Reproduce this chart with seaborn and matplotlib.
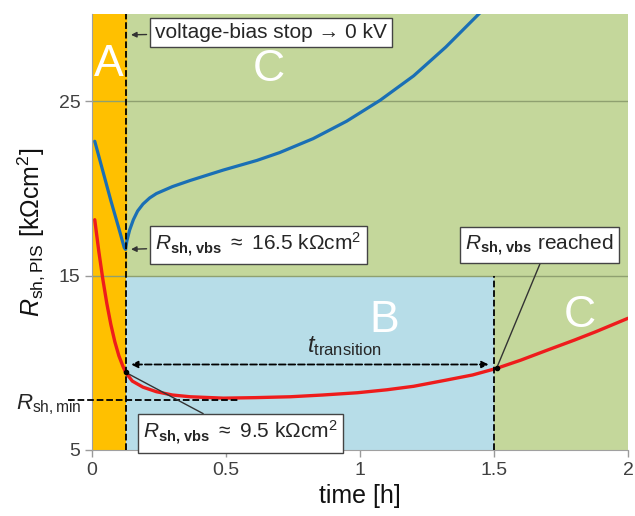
import numpy as np
import pandas as pd
import matplotlib
matplotlib.use("Agg")
import matplotlib.pyplot as plt
import seaborn as sns

# Curves
t_blue = [0.01, 0.04, 0.07, 0.1, 0.12, 0.125, 0.13, 0.14, 0.154, 0.17, 0.19, 0.215, 0.24,
          0.3, 0.366, 0.49, 0.615, 0.7, 0.825, 0.95, 1.075, 1.2, 1.32, 1.45, 1.47]
r_blue = [22.7, 21.0, 19.3, 17.7, 16.6, 16.5, 17.0, 17.6, 18.2, 18.7, 19.1, 19.45, 19.7,
          20.1, 20.45, 21.05, 21.6, 22.05, 22.85, 23.85, 25.05, 26.45, 28.1, 30.1, 30.4]

t_red = [0.01, 0.025, 0.04, 0.055, 0.07, 0.085, 0.1, 0.115, 0.125, 0.15, 0.19, 0.24, 0.3,
         0.366, 0.49, 0.61, 0.74, 0.86, 0.99, 1.1, 1.2, 1.32, 1.42, 1.51, 1.6, 1.7, 1.8,
         1.88, 2.0]
r_red = [18.2, 16.4, 14.8, 13.4, 12.2, 11.2, 10.4, 9.8, 9.45, 8.95, 8.6, 8.34, 8.15,
         8.05, 7.97, 8.0, 8.05, 8.15, 8.28, 8.45, 8.65, 9.0, 9.3, 9.68, 10.15, 10.73, 11.3,
         11.78, 12.55]

t_stop = 0.125       # voltage-bias stop
t_reached = 1.51     # R_sh,vbs reached again
r_vbs_blue = 16.5
r_vbs_red = 9.45
r_min = 7.87
r_transition = 9.9
x_ticks = [0, 0.5, 1, 1.5, 2]
y_ticks = [5, 15, 25]

blue_df = pd.DataFrame({"time": t_blue, "R": r_blue})
red_df = pd.DataFrame({"time": t_red, "R": r_red})

sns.set_style("white")
plt.rcParams["font.family"] = ["Liberation Sans", "DejaVu Sans"]
plt.rcParams["mathtext.fontset"] = "custom"
plt.rcParams["mathtext.rm"] = "Liberation Sans"
plt.rcParams["mathtext.it"] = "Liberation Sans:italic"
plt.rcParams["mathtext.bf"] = "Liberation Sans:bold"

fig = plt.figure(figsize=(6.35, 5.16), dpi=100)
ax = fig.add_axes([0.145, 0.128, 0.844, 0.845])

green = "#C4D79B"
orange = "#FFC000"
lightblue = "#B7DDE8"
ax.set_facecolor(green)
ax.axvspan(0, t_stop, color=orange, zorder=0)
ax.fill_between([t_stop, 1.5], 5, 15, color=lightblue, zorder=0, linewidth=0)
ax.axhline(25, color="#8FA070", lw=1, zorder=1)
ax.axhline(15, color="#8FA070", lw=1, zorder=1)

sns.lineplot(data=blue_df, x="time", y="R", ax=ax, color="#1A6FB5", lw=2.3, zorder=3)
sns.lineplot(data=red_df, x="time", y="R", ax=ax, color="#EE1C1C", lw=2.4, zorder=3)

ax.set_xlim(0, 2)
ax.set_ylim(5, 30)
ax.set_xticks(x_ticks)
ax.set_xticklabels(["0", "0.5", "1", "1.5", "2"])
ax.set_yticks(y_ticks)
ax.tick_params(axis="both", colors="#9A9A9A", labelsize=14, length=5, width=1,
               bottom=True, left=True, labelcolor="#404040")
for s in ["top", "right"]:
    ax.spines[s].set_visible(False)
for s in ["left", "bottom"]:
    ax.spines[s].set_color("#A0A0A0")

ax.set_xlabel("time [h]", fontsize=18, color="#111111", labelpad=4)
ax.set_ylabel(r"$\mathit{R}_{\mathrm{sh,PIS}}$ [k$\Omega$cm$^2$]", fontsize=18,
              color="#111111", labelpad=8)

# dashed guide lines
ax.plot([t_stop, t_stop], [5, 30], ls="--", color="black", lw=1.3, zorder=4)
ax.plot([1.5, 1.5], [5, 15], ls="--", color="black", lw=1.3, zorder=4)
ax.plot([-0.09, 0.55], [r_min, r_min], ls="--", color="black", lw=1.3, zorder=4, clip_on=False)
ax.annotate("", xy=(t_stop + 0.01, r_transition), xytext=(1.5 - 0.01, r_transition),
            arrowprops=dict(arrowstyle="<|-|>", ls="--", color="black", lw=1.3,
                            mutation_scale=10), zorder=4)
ax.text(0.94, 10.25, r"$\mathit{t}_{\mathrm{transition}}$", fontsize=17, ha="center", va="bottom")
ax.text(-0.16, r_min - 0.3, r"$\mathit{R}_{\mathrm{sh,min}}$", fontsize=16, ha="center",
        va="center", clip_on=False)

# region letters
for lbl, x, y in [("A", 0.062, 27.1), ("C", 0.66, 26.8), ("B", 1.09, 12.4), ("C", 1.82, 12.7)]:
    ax.text(x, y, lbl, color="white", fontsize=32, ha="center", va="center", zorder=5)

box = dict(boxstyle="square,pad=0.25", fc="white", ec="#444444", lw=1)
ax.annotate("voltage-bias stop \u2192 0 kV", xy=(t_stop + 0.01, 28.8),
            xytext=(0.235, 28.95), fontsize=15, va="center", ha="left", bbox=box,
            arrowprops=dict(arrowstyle="-|>", color="#333333", lw=1, mutation_scale=8), zorder=6)
ax.annotate(r"$\mathit{R}_{\mathbf{sh,\,vbs}}$ $\approx$ 16.5 k$\Omega$cm$^2$",
            xy=(t_stop + 0.01, r_vbs_blue), xytext=(0.235, 16.75), fontsize=15, va="center",
            ha="left", bbox=box,
            arrowprops=dict(arrowstyle="-|>", color="#333333", lw=1, mutation_scale=8), zorder=6)
ax.annotate(r"$\mathit{R}_{\mathbf{sh,\,vbs}}$ $\approx$ 9.5 k$\Omega$cm$^2$",
            xy=(t_stop, r_vbs_red), xytext=(0.19, 5.95), fontsize=15, va="center",
            ha="left", bbox=box,
            arrowprops=dict(arrowstyle="-", color="#333333", lw=1,
                            shrinkA=0, shrinkB=0), zorder=6)
ax.annotate(r"$\mathit{R}_{\mathbf{sh,\,vbs}}$ reached",
            xy=(t_reached, 9.7), xytext=(1.67, 16.75), fontsize=15, va="center",
            ha="center", bbox=box,
            arrowprops=dict(arrowstyle="-", color="#333333", lw=1, shrinkA=0,
                            shrinkB=0, relpos=(0.52, 0)), zorder=6)
ax.plot([t_reached], [9.7], "o", color="black", ms=3, zorder=7)
ax.plot([t_stop], [r_vbs_red], "o", color="black", ms=3, zorder=7)

fig.savefig("out.png", dpi=100)
